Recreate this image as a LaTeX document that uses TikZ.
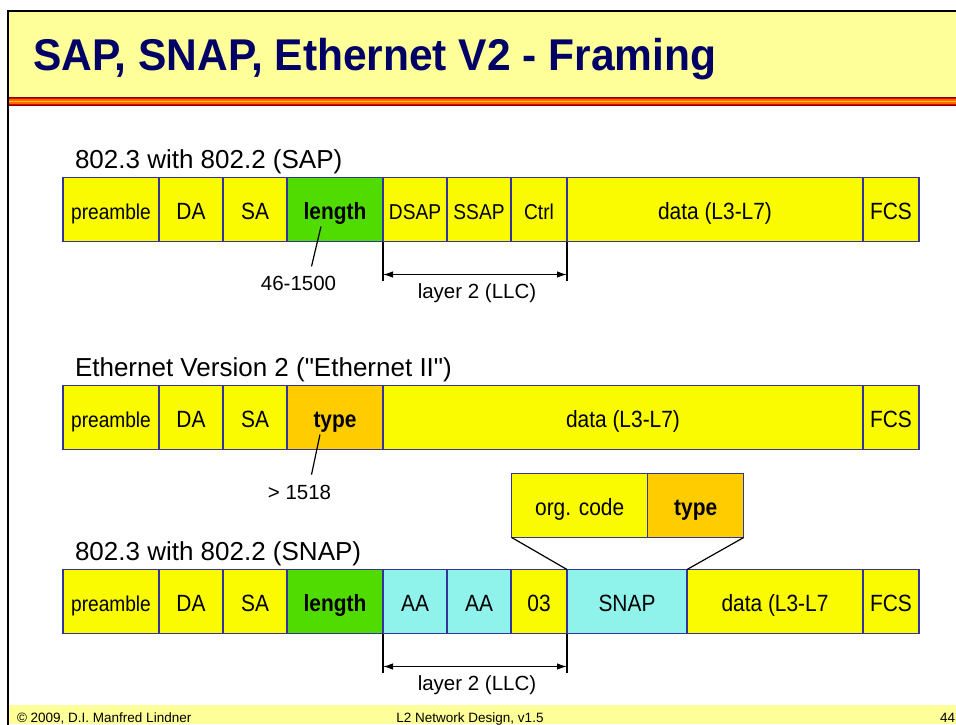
\documentclass[tikz,border=0pt]{standalone}
\usepackage{fontspec}
\setmainfont{Liberation Sans}
\newfontfamily\plainfam{Liberation Sans}
\newfontfamily\narrowfont[FakeStretch=0.89]{Liberation Sans}
\newfontfamily\titlefam[FakeStretch=0.955]{Liberation Sans}
\usepackage{tikz}
\usetikzlibrary{arrows.meta,positioning,calc}

\definecolor{titlebg}{HTML}{FFFF99}
\definecolor{titleblue}{HTML}{000066}
\definecolor{fieldline}{HTML}{333399}
\definecolor{fieldyel}{HTML}{FAFA00}
\definecolor{lengreen}{HTML}{50DC00}
\definecolor{typeorange}{HTML}{FFCC00}
\definecolor{snapcyan}{HTML}{8FF3EB}
\definecolor{stripeA}{HTML}{880000}
\definecolor{stripeB}{HTML}{E00000}
\definecolor{stripeC}{HTML}{FF6600}
\definecolor{stripeD}{HTML}{FFCC00}

\newcommand{\fieldfont}{\narrowfont\fontsize{23.5}{27}\selectfont}
\newcommand{\smallfieldfont}{\narrowfont\fontsize{21.5}{25}\selectfont}
\newcommand{\headfont}{\plainfam\fontsize{26}{30}\selectfont}
\newcommand{\notefont}{\fontsize{20.5}{24}\selectfont}
\newcommand{\footfont}{\fontsize{13.5}{16}\selectfont}
\newcommand{\titlefont}{\titlefam\bfseries\fontsize{44.5}{52}\selectfont}

\begin{document}
\begin{tikzpicture}[x=1pt,y=-1pt,>={Latex[length=10pt,width=6.5pt]},line width=1.2pt,
                    w/.style={minimum width=#1pt}]
  \tikzstyle{fld}=[draw=fieldline,fill=fieldyel,minimum height=64pt,inner sep=0pt,
                   outer sep=0pt,text height=19pt,text depth=0pt,font=\fieldfont]
  \tikzstyle{smallfld}=[fld,font=\smallfieldfont]
  \tikzstyle{lenfld}=[fld,fill=lengreen,font=\fieldfont\bfseries]
  \tikzstyle{typefld}=[fld,fill=typeorange,font=\fieldfont\bfseries]
  \tikzstyle{snapfld}=[fld,fill=snapcyan]
  \tikzstyle{txt}=[inner sep=0pt,outer sep=0pt]

  \useasboundingbox (0,0) rectangle (956,724);

  % slide frame, title and footer
  \fill[titlebg] (9,12) rectangle (960,97);
  \fill[stripeA] (9,97) rectangle (960,106);
  \fill[stripeB] (9,98.2) rectangle (960,104.8);
  \fill[stripeC] (9,99.4) rectangle (960,103.6);
  \fill[stripeD] (9,100.6) rectangle (960,102.4);
  \fill[titlebg] (9,705) rectangle (960,724);
  \draw[line width=2.5pt] (8,730) -- (8,11) -- (970,11);

  \node[txt,anchor=base west,font=\titlefont,text=titleblue] (title) at (33,70)
       {SAP, SNAP, Ethernet V2 - Framing};
  \node[txt,anchor=base west,font=\footfont] (copy) at (17,722) {\textcopyright{} 2009, D.I. Manfred Lindner};
  \node[txt,anchor=base,font=\footfont] (course) at (470,722) {L2 Network Design, v1.5};
  \node[txt,anchor=base west,font=\footfont] (page) at (940,722) {44};

  % 802.3 with 802.2 (SAP)
  \node[txt,anchor=base west,font=\headfont] (head1) at (75,168) {802.3 with 802.2 (SAP)};
  \node[smallfld,w=96,anchor=west] (pre1) at (63,209.5) {preamble};
  \node[fld,w=64,right=0pt of pre1]  (da1)   {DA};
  \node[fld,w=64,right=0pt of da1]   (sa1)   {SA};
  \node[lenfld,w=96,right=0pt of sa1] (len1) {length};
  \node[smallfld,w=64,right=0pt of len1]  (dsap1) {DSAP};
  \node[smallfld,w=64,right=0pt of dsap1] (ssap1) {SSAP};
  \node[smallfld,w=56,right=0pt of ssap1] (ctrl1) {Ctrl};
  \node[fld,w=296,right=0pt of ctrl1] (data1) {data (L3-L7)};
  \node[fld,w=56,right=0pt of data1] (fcs1)  {FCS};

  \node[txt,anchor=base,font=\notefont] (lenval) at (298.5,290.7) {46-1500};
  \draw ([shift={(-14,-15)}]len1.south) -- ([shift={(13,-10)}]lenval.north);

  \draw (dsap1.south west) -- ($(dsap1.south west)+(0,39)$);
  \draw (data1.south west) -- ($(data1.south west)+(0,39)$);
  \coordinate (llcA1) at ($(dsap1.south west)+(0,33)$);
  \coordinate (llcB1) at ($(data1.south west)+(0,33)$);
  \draw[<->] (llcA1) -- (llcB1);
  \node[txt,anchor=base,font=\notefont] (llc1) at ($(llcA1)!0.5!(llcB1)+(2,24)$) {layer 2 (LLC)};

  % Ethernet II
  \node[txt,anchor=base west,font=\headfont] (head2) at (75,376)
       {Ethernet Version 2 ("Ethernet II")};
  \node[smallfld,w=96,anchor=west] (pre2) at (63,417.5) {preamble};
  \node[fld,w=64,right=0pt of pre2]  (da2)   {DA};
  \node[fld,w=64,right=0pt of da2]   (sa2)   {SA};
  \node[typefld,w=96,right=0pt of sa2] (type2) {type};
  \node[fld,w=480,right=0pt of type2] (data2) {data (L3-L7)};
  \node[fld,w=56,right=0pt of data2] (fcs2)  {FCS};

  \node[txt,anchor=base,font=\notefont] (typeval) at (299.5,499) {> 1518};
  \draw ([shift={(-15,-15)}]type2.south) -- ([shift={(12,-10)}]typeval.north);

  % 802.3 with 802.2 (SNAP)
  \node[fld,w=136,anchor=west] (orgcode) at (511.7,505.5) {org. code};
  \node[typefld,w=96,right=0pt of orgcode] (otype) {type};

  \node[txt,anchor=base west,font=\headfont] (head3) at (75,560) {802.3 with 802.2 (SNAP)};
  \node[smallfld,w=96,anchor=west] (pre3) at (63,601.5) {preamble};
  \node[fld,w=64,right=0pt of pre3]  (da3)   {DA};
  \node[fld,w=64,right=0pt of da3]   (sa3)   {SA};
  \node[lenfld,w=96,right=0pt of sa3] (len3) {length};
  \node[snapfld,w=64,right=0pt of len3] (aa3) {AA};
  \node[snapfld,w=64,right=0pt of aa3]  (ab3) {AA};
  \node[fld,w=56,right=0pt of ab3]   (ctl3)  {03};
  \node[snapfld,w=120,right=0pt of ctl3] (snap3) {SNAP};
  \node[fld,w=176,right=0pt of snap3] (data3) {data (L3-L7};
  \node[fld,w=56,right=0pt of data3] (fcs3)  {FCS};

  \draw (orgcode.south west) -- (snap3.north west);
  \draw (otype.south east) -- (snap3.north east);

  \draw (aa3.south west) -- ($(aa3.south west)+(0,39)$);
  \draw (snap3.south west) -- ($(snap3.south west)+(0,39)$);
  \coordinate (llcA3) at ($(aa3.south west)+(0,33)$);
  \coordinate (llcB3) at ($(snap3.south west)+(0,33)$);
  \draw[<->] (llcA3) -- (llcB3);
  \node[txt,anchor=base,font=\notefont] (llc3) at ($(llcA3)!0.5!(llcB3)+(2,24)$) {layer 2 (LLC)};
\end{tikzpicture}
\end{document}
